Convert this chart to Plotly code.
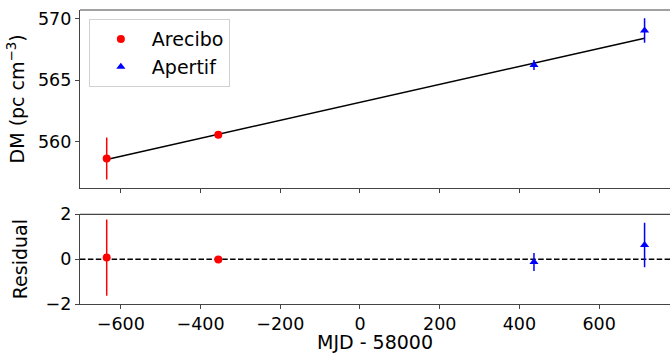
import plotly.graph_objects as go

# Data (MJD - 58000)
arecibo_mjd = [-635.5, -355.5]
arecibo_dm = [558.65, 560.57]
arecibo_err = [1.7, 0.08]
arecibo_res = [0.07, -0.01]

apertif_mjd = [436.5, 714.0]
apertif_dm = [566.24, 569.04]
apertif_err = [0.4, 0.99]
apertif_res = [-0.13, 0.63]

fit_mjd = [-635.5, -355.5, 436.5, 714.0]
fit_dm = [558.58, 560.62, 566.38, 568.41]

x_ticks = [-600, -400, -200, 0, 200, 400, 600]
dm_ticks = [560, 565, 570]
res_ticks = [-2, 0, 2]

FONT = "DejaVu Sans"
AX = "#444444"
TICKFONT = 17.5
LABELFONT = 19

fig = go.Figure()

fig.add_trace(go.Scatter(x=fit_mjd, y=fit_dm, mode="lines",
                         line=dict(color="black", width=1.5),
                         showlegend=False, xaxis="x", yaxis="y"))

fig.add_trace(go.Scatter(x=arecibo_mjd, y=arecibo_dm, mode="markers", name="Arecibo",
                         marker=dict(color="red", size=8, symbol="circle"),
                         error_y=dict(type="data", array=arecibo_err, color="red",
                                      thickness=1.5, width=0),
                         xaxis="x", yaxis="y"))
fig.add_trace(go.Scatter(x=apertif_mjd, y=apertif_dm, mode="markers", name="Apertif",
                         marker=dict(color="blue", size=8, symbol="triangle-up"),
                         error_y=dict(type="data", array=apertif_err, color="blue",
                                      thickness=1.5, width=0),
                         xaxis="x", yaxis="y"))

fig.add_trace(go.Scatter(x=arecibo_mjd, y=arecibo_res, mode="markers", showlegend=False,
                         marker=dict(color="red", size=8, symbol="circle"),
                         error_y=dict(type="data", array=arecibo_err, color="red",
                                      thickness=1.5, width=0),
                         xaxis="x2", yaxis="y2"))
fig.add_trace(go.Scatter(x=apertif_mjd, y=apertif_res, mode="markers", showlegend=False,
                         marker=dict(color="blue", size=8, symbol="triangle-up"),
                         error_y=dict(type="data", array=apertif_err, color="blue",
                                      thickness=1.5, width=0),
                         xaxis="x2", yaxis="y2"))

# zero line in residual panel
fig.add_shape(type="line", xref="x2 domain", yref="y2", x0=0, x1=1, y0=0, y1=0,
              line=dict(color="black", width=1.5, dash="5.5px,2.4px"), layer="below")

# top spines
for yd in (1.0, 0.305):
    fig.add_shape(type="line", xref="paper", yref="paper", x0=0, x1=1, y0=yd, y1=yd,
                  line=dict(color=AX, width=1.2))

xr = [-702.5, 777.8]
common_x = dict(range=xr, tickvals=x_ticks, ticks="outside", ticklen=4, tickcolor=AX,
                showline=True, linecolor=AX, linewidth=1.2, showgrid=False,
                zeroline=False, mirror=False, automargin=False,
                tickfont=dict(size=TICKFONT))
common_y = dict(ticks="outside", ticklen=4, tickcolor=AX, showline=True, linecolor=AX,
                linewidth=1.2, showgrid=False, zeroline=False, mirror=False,
                automargin=False, tickfont=dict(size=TICKFONT))

fig.update_layout(
    width=670, height=353,
    margin=dict(l=80, r=0, t=10, b=49),
    paper_bgcolor="white", plot_bgcolor="white",
    font=dict(family=FONT, size=LABELFONT, color="black"),
    xaxis=dict(**common_x, domain=[0, 1], anchor="y", showticklabels=False),
    yaxis=dict(**common_y, domain=[0.395, 1], range=[556.27, 570.7], tickvals=dm_ticks,
               anchor="x",
               title=dict(text="DM (pc cm<sup>−3</sup>)", standoff=8,
                          font=dict(size=LABELFONT))),
    xaxis2=dict(**common_x, domain=[0, 1], anchor="y2",
                ticktext=[str(v).replace("-", "−") for v in x_ticks],
                title=dict(text="MJD - 58000", standoff=3, font=dict(size=LABELFONT))),
    yaxis2=dict(**common_y, domain=[0, 0.305], range=[-2, 2], tickvals=res_ticks,
                ticktext=[str(v).replace("-", "−") for v in res_ticks], anchor="x2",
                title=dict(text="Residual", standoff=12, font=dict(size=LABELFONT))),
    legend=dict(x=0.015, y=0.969, xanchor="left", yanchor="top",
                bgcolor="white", bordercolor="#d0d0d0", borderwidth=1,
                font=dict(size=LABELFONT), itemwidth=52, tracegroupgap=0),
)

fig.write_html("out.html", config={"displayModeBar": False},
               post_script="document.body.style.margin='0';document.body.style.overflow='hidden';")
